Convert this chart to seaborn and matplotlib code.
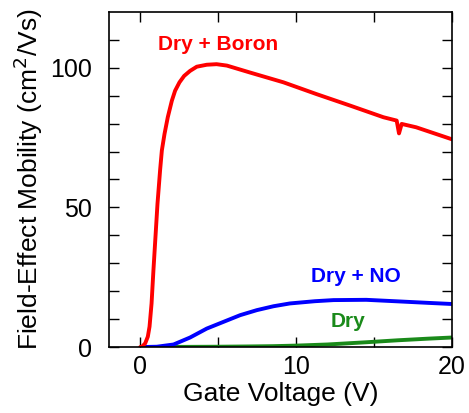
import numpy as np
import pandas as pd
import matplotlib
matplotlib.use("Agg")
import matplotlib.pyplot as plt
import seaborn as sns

# valores
vg_boron = [0.0, 0.1, 0.32, 0.49, 0.60, 0.73, 0.85, 0.98, 1.11, 1.28, 1.39,
            1.56, 1.77, 2.03, 2.24, 2.52, 2.82, 3.2, 3.63, 4.27, 4.9, 5.56,
            7.05, 9.19, 11.3, 13.5, 15.6, 16.45, 16.6, 16.77, 17.7, 19.94, 20.0]
mu_boron = [0.0, 0.0, 1.3, 3.7, 7.3, 15.6, 27.5, 39.4, 51.3, 63.5, 70.4,
            76.3, 82.3, 88.2, 91.8, 94.8, 97.1, 98.9, 100.4, 101.1, 101.3, 100.8,
            98.3, 94.8, 90.6, 86.4, 82.3, 81.1, 76.5, 79.9, 78.7, 74.5, 74.4]

vg_no = [0.2, 1.07, 2.14, 3.2, 4.27, 5.34, 6.41, 7.48, 8.55, 9.6, 10.0, 11.2,
         12.4, 14.5, 16.7, 18.5, 20.0]
mu_no = [0.0, 0.1, 0.9, 3.4, 6.6, 9.0, 11.4, 13.2, 14.6, 15.6, 15.8, 16.4,
         16.8, 16.9, 16.3, 15.8, 15.4]

vg_dry = [0.4, 3.0, 5.0, 7.0, 8.5, 10.0, 12.0, 14.5, 16.5, 18.5, 20.0]
mu_dry = [0.0, 0.05, 0.1, 0.2, 0.3, 0.5, 0.9, 1.7, 2.4, 3.0, 3.4]

df = pd.concat([
    pd.DataFrame({"Vg": vg_dry, "mu": mu_dry, "amostra": "Dry"}),
    pd.DataFrame({"Vg": vg_no, "mu": mu_no, "amostra": "Dry + NO"}),
    pd.DataFrame({"Vg": vg_boron, "mu": mu_boron, "amostra": "Dry + Boron"}),
])

cores = {"Dry + Boron": "#ff0000", "Dry + NO": "#0000ff", "Dry": "#1a8a1a"}

sns.set_style("ticks")
plt.rcParams["font.family"] = ["Liberation Sans", "DejaVu Sans"]
plt.rcParams["text.color"] = "black"
plt.rcParams["axes.labelcolor"] = "black"
plt.rcParams["xtick.color"] = "black"
plt.rcParams["ytick.color"] = "black"

fig = plt.figure(figsize=(4.69, 4.13), dpi=100)
ax = fig.add_axes([0.2324, 0.1598, 0.7314, 0.8112])

sns.lineplot(
    data=df,
    x="Vg",
    y="mu",
    hue="amostra",
    palette=cores,
    linewidth=2.8,
    sort=False,
    estimator=None,
    legend=False,
    ax=ax
)

ax.set_xlim(-2, 20)
ax.set_ylim(0, 120)
ax.set_xticks([0, 10, 20])
ax.set_xticks([5, 15], minor=True)
ax.set_yticks([0, 50, 100])
ax.set_yticks([10, 20, 30, 40, 60, 70, 80, 90, 110], minor=True)

ax.tick_params(which="both", direction="in", top=True, right=True,
               length=7, width=1, labelsize=18, color="black",
               labelcolor="black")
ax.tick_params(axis="y", pad=12)
ax.tick_params(axis="x", pad=6)
for s in ax.spines.values():
    s.set_linewidth(1.2)
    s.set_color("black")

ax.set_xlabel("Gate Voltage (V)", fontsize=19, labelpad=2, color="black")
ax.set_ylabel("Field-Effect Mobility (cm$^2$/Vs)", fontsize=19, labelpad=4,
              color="black")

ax.text(1.15, 108.5, "Dry + Boron", color=cores["Dry + Boron"],
        fontsize=15, fontweight="bold", va="center")
ax.text(10.96, 25.4, "Dry + NO", color=cores["Dry + NO"],
        fontsize=15, fontweight="bold", va="center")
ax.text(12.2, 9.0, "Dry", color=cores["Dry"],
        fontsize=15, fontweight="bold", va="center")

fig.savefig("out.png", dpi=100)
